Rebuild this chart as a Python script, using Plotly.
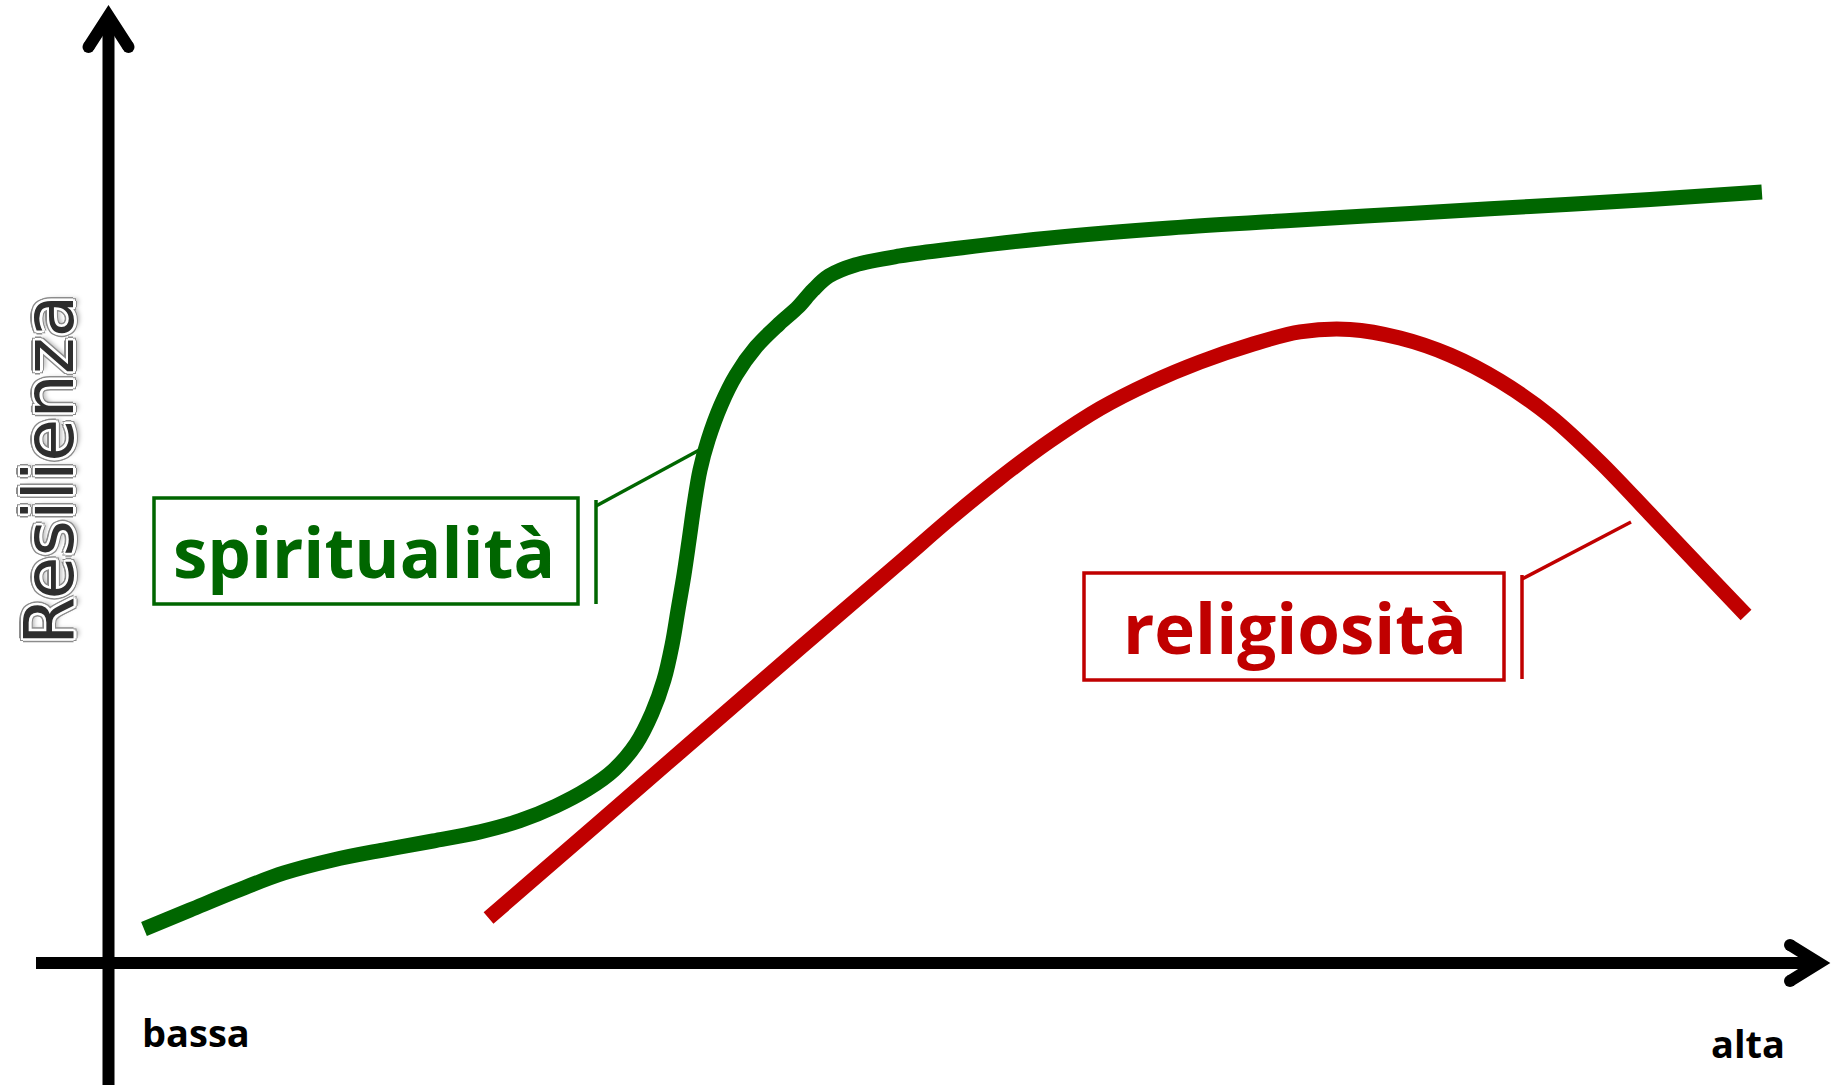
import plotly.graph_objects as go

W, H = 1832, 1085

# ---- data (level 0-100 on x, resilience 0-100 on y) ----
spirit_x = [2.14, 4.92, 7.71, 10.61, 13.57, 16.60, 19.62, 22.46, 24.88, 27.06, 28.99, 30.56,
            31.90, 32.87, 33.59, 34.08, 34.44, 34.80, 35.11, 35.41, 35.77, 36.26, 37.04,
            37.95, 39.16, 40.55, 41.70, 42.61, 43.57, 45.15, 47.87, 51.50, 56.94, 64.20,
            71.46, 78.72, 85.98, 93.24, 100.0]
spirit_y = [4.47, 6.93, 9.39, 11.73, 13.41, 14.70, 15.87, 17.05, 18.50, 20.40, 22.61, 25.07,
            28.44, 32.45, 36.73, 41.26, 45.80, 50.33, 54.86, 59.40, 63.93, 67.82, 72.35,
            76.24, 79.87, 82.85, 85.05, 87.25, 89.07, 90.49, 91.66, 92.69, 93.99, 95.28,
            96.26, 97.16, 98.07, 98.98, 99.95]
relig_x = [22.98, 29.72, 35.77, 41.82, 47.87, 50.89, 53.92, 56.94, 59.97, 62.99, 66.02,
           69.04, 72.06, 75.09, 78.11, 81.13, 84.16, 87.18, 90.21, 93.23, 96.26, 99.04]
relig_y = [5.89, 18.38, 29.63, 40.87, 52.00, 57.60, 62.90, 67.70, 71.90, 75.21, 77.93,
           80.13, 81.82, 82.14, 81.03, 78.83, 75.46, 70.93, 64.97, 58.23, 51.37, 45.15]

series_names = ["spiritualità", "religiosità"]
x_tick_labels = ["bassa", "alta"]
y_title = "Resilienza"

GREEN = "#006600"
RED = "#C00000"

fig = go.Figure()
fig.add_trace(go.Scatter(x=spirit_x, y=spirit_y, mode="lines", name=series_names[0],
                         line=dict(color=GREEN, width=15, shape="spline", smoothing=1.0),
                         hoverinfo="skip"))
fig.add_trace(go.Scatter(x=relig_x, y=relig_y, mode="lines", name=series_names[1],
                         line=dict(color=RED, width=15, shape="spline", smoothing=1.0),
                         hoverinfo="skip"))


def px(x):
    return x / W


def py(y):
    return 1 - y / H


def path(points):
    return "M " + " L ".join(f"{px(a):.5f},{py(b):.5f}" for a, b in points)


shapes = []
# axes
shapes.append(dict(type="line", xref="paper", yref="paper", x0=px(108.5), y0=py(1095),
                   x1=px(108.5), y1=py(22), line=dict(color="black", width=12)))
shapes.append(dict(type="line", xref="paper", yref="paper", x0=px(36), y0=py(963),
                   x1=px(1816), y1=py(963), line=dict(color="black", width=12)))
# arrow heads
shapes.append(dict(type="path", xref="paper", yref="paper",
                   path=path([(88.5, 47), (108.5, 16), (128.5, 47)]),
                   line=dict(color="black", width=12)))
shapes.append(dict(type="path", xref="paper", yref="paper",
                   path=path([(1790, 945), (1819, 963), (1790, 981)]),
                   line=dict(color="black", width=12)))
for cx, cy in [(88.5, 47), (128.5, 47), (1790, 945), (1790, 981)]:
    shapes.append(dict(type="circle", xref="paper", yref="paper",
                       x0=px(cx - 6), x1=px(cx + 6), y0=py(cy - 6), y1=py(cy + 6),
                       fillcolor="black", line=dict(width=0)))
# label boxes
shapes.append(dict(type="rect", xref="paper", yref="paper", x0=px(154), y0=py(498),
                   x1=px(578), y1=py(604), line=dict(color=GREEN, width=3.5)))
shapes.append(dict(type="rect", xref="paper", yref="paper", x0=px(1084), y0=py(573),
                   x1=px(1504), y1=py(680), line=dict(color=RED, width=3.5)))
# brackets / leader lines
shapes.append(dict(type="line", xref="paper", yref="paper", x0=px(596), y0=py(500),
                   x1=px(596), y1=py(604), line=dict(color=GREEN, width=3.5)))
shapes.append(dict(type="line", xref="paper", yref="paper", x0=px(596), y0=py(506),
                   x1=px(703), y1=py(448), line=dict(color=GREEN, width=3.5)))
shapes.append(dict(type="line", xref="paper", yref="paper", x0=px(1522), y0=py(575),
                   x1=px(1522), y1=py(679), line=dict(color=RED, width=3.5)))
shapes.append(dict(type="line", xref="paper", yref="paper", x0=px(1522), y0=py(579),
                   x1=px(1631), y1=py(522), line=dict(color=RED, width=3.5)))

TXT = "Open Sans"


def ring(r, color):
    out = []
    for dx, dy in [(r, 0), (-r, 0), (0, r), (0, -r), (0.7 * r, 0.7 * r), (-0.7 * r, 0.7 * r),
                   (0.7 * r, -0.7 * r), (-0.7 * r, -0.7 * r)]:
        out.append(f"{dx:.1f}px {dy:.1f}px 0 {color}")
    return out


shadow = ", ".join(ring(2.5, "#ffffff") + ring(4, "#8c8c8c") + ["2px 5px 5px rgba(0,0,0,0.35)"])

annotations = [
    dict(text=series_names[0], xref="paper", yref="paper", x=px(364), y=py(551),
         xanchor="center", yanchor="middle", showarrow=False,
         font=dict(family=TXT, size=69, color=GREEN, weight=700)),
    dict(text=series_names[1], xref="paper", yref="paper", x=px(1295), y=py(627),
         xanchor="center", yanchor="middle", showarrow=False,
         font=dict(family=TXT, size=69, color=RED, weight=700)),
    dict(text=x_tick_labels[0], xref="paper", yref="paper", x=px(140), y=py(1032),
         xanchor="left", yanchor="middle", showarrow=False,
         font=dict(family=TXT, size=38, color="black", weight=700)),
    dict(text=x_tick_labels[1], xref="paper", yref="paper", x=px(1709), y=py(1043),
         xanchor="left", yanchor="middle", showarrow=False,
         font=dict(family=TXT, size=38, color="black", weight=700)),
    dict(text=y_title, xref="paper", yref="paper", x=px(49), y=py(470),
         xanchor="center", yanchor="middle", showarrow=False, textangle=-90,
         font=dict(family="DejaVu Sans", size=70, color="#2e2e2e", shadow=shadow)),
]

fig.update_layout(
    width=W, height=H,
    margin=dict(l=0, r=0, t=0, b=0),
    paper_bgcolor="white", plot_bgcolor="white",
    showlegend=False,
    xaxis=dict(range=[-6.57, 104.24], visible=False, fixedrange=True),
    yaxis=dict(range=[-15.74, 124.82], visible=False, fixedrange=True),
    shapes=shapes,
    annotations=annotations,
)

fig.write_html(
    "out.html",
    config={"displayModeBar": False},
    post_script="document.body.style.margin='0px';document.body.style.overflow='hidden';",
)
